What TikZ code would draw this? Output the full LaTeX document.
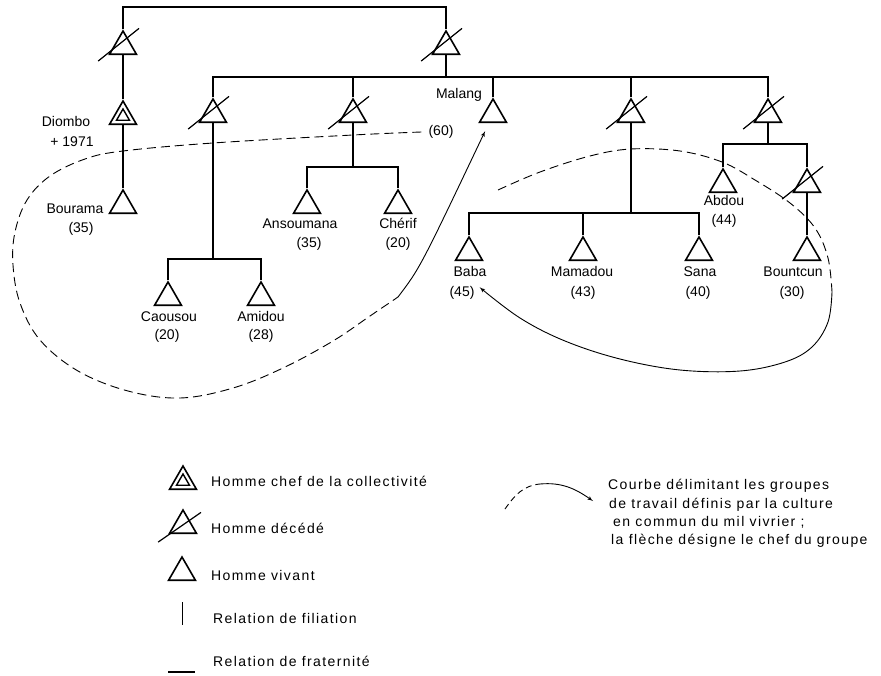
\documentclass[tikz,border=0pt]{standalone}
\usepackage{fontspec}
\setmainfont{Liberation Sans}
\usetikzlibrary{shapes,arrows,positioning,calc}
\tikzset{
vivant/.style = {draw, regular polygon, regular polygon sides=3, minimum size=31pt, inner sep=0pt, line width=1.6pt},
decede/.style = {vivant},
chef/.style = {vivant},
chefint/.style = {draw, regular polygon, regular polygon sides=3, minimum size=15pt, inner sep=0pt, line width=1.4pt},
barre/.style = {line width=1.2pt},
lien/.style = {line width=1.6pt},
tmp/.style = {coordinate},
nom/.style = {inner sep=1pt, text height=10pt, text depth=3pt},
legende/.style = {nom, anchor=west, font=\fontsize{14}{18}\selectfont\addfontfeature{LetterSpace=10}},
courbe/.style = {line width=0.9pt, dash pattern=on 9pt off 5pt},
fleche/.style = {->, line width=0.9pt}
}
\begin{document}
\begin{tikzpicture}[x=1pt, y=-1pt, >=latex', font=\fontsize{14}{17}\selectfont]
    \useasboundingbox (0,0) rectangle (881,675);
    \node [tmp] (b1) at (284,7) {};
    \node [decede] (t1) at (123,46.5) {};
    \node [decede] (t2) at (446,46.5) {};
    \node [chef] (diombo) at (123,116.5) {};
    \node [chefint] (diomboin) at (diombo.center) {};
    \node [vivant] (bourama) at (123,205.5) {};
    \node [tmp] (b2) at (446,77) {};
    \node [decede] (p1) at (213,114.5) {};
    \node [decede] (p2) at (353,114.5) {};
    \node [vivant] (malang) at (493,114.5) {};
    \node [decede] (p3) at (631,114.5) {};
    \node [decede] (p4) at (768,114.5) {};
    \node [tmp] (b3) at (213,259) {};
    \node [vivant] (caousou) at (168,297.5) {};
    \node [vivant] (amidou) at (261,297.5) {};
    \node [tmp] (b4) at (353,167) {};
    \node [vivant] (ansoumana) at (307,205.5) {};
    \node [vivant] (cherif) at (398,205.5) {};
    \node [tmp] (b5) at (631,213) {};
    \node [vivant] (baba) at (469,252.5) {};
    \node [vivant] (mamadou) at (583,252.5) {};
    \node [vivant] (sana) at (699,252.5) {};
    \node [tmp] (b6) at (768,144) {};
    \node [vivant] (abdou) at (723,184.5) {};
    \node [decede] (p5) at (807,184.5) {};
    \node [vivant] (bountoun) at (807,252.5) {};
    \node [nom] (ndiombo) at (66,123) {Diombo};
    \node [nom] (mdiombo) at (72,143) {+ 1971};
    \node [nom] (nbourama) at (75,210) {Bourama};
    \node [nom] (abourama) at (81,229) {(35)};
    \node [nom] (nmalang) at (459,95) {Malang};
    \node [nom] (amalang) at (441,132) {(60)};
    \node [nom] (nansoumana) at (300,225) {Ansoumana};
    \node [nom] (aansoumana) at (309,244) {(35)};
    \node [nom] (ncherif) at (398,225) {Chérif};
    \node [nom] (acherif) at (398,244) {(20)};
    \node [nom] (ncaousou) at (169,318) {Caousou};
    \node [nom] (acaousou) at (167,336) {(20)};
    \node [nom] (namidou) at (261,318) {Amidou};
    \node [nom] (aamidou) at (261,336) {(28)};
    \node [nom] (nbaba) at (470,273) {Baba};
    \node [nom] (ababa) at (462,293) {(45)};
    \node [nom] (nmamadou) at (582,273) {Mamadou};
    \node [nom] (amamadou) at (583,293) {(43)};
    \node [nom] (nsana) at (700,273) {Sana};
    \node [nom] (asana) at (698,293) {(40)};
    \node [nom] (nabdou) at (724,202) {Abdou};
    \node [nom] (aabdou) at (724,221) {(44)};
    \node [nom] (nbountoun) at (793,273) {Bountcun};
    \node [nom] (abountoun) at (792,293) {(30)};
    \draw [lien] (t1) |- (b1) -| (t2);
    \draw [lien] (t1) -- (diombo);
    \draw [lien] (diombo) -- (bourama);
    \draw [lien] (t2) -- (b2);
    \draw [lien] (p1) |- (b2) -| (p4);
    \draw [lien] (p2) -- (p2 |- b2);
    \draw [lien] (malang) -- (malang |- b2);
    \draw [lien] (p3) -- (p3 |- b2);
    \draw [lien] (p1) -- (b3);
    \draw [lien] (caousou) |- (b3) -| (amidou);
    \draw [lien] (p2) -- (b4);
    \draw [lien] (ansoumana) |- (b4) -| (cherif);
    \draw [lien] (p3) -- (b5);
    \draw [lien] (baba) |- (b5) -| (sana);
    \draw [lien] (mamadou) -- (mamadou |- b5);
    \draw [lien] (p4) -- (b6);
    \draw [lien] (abdou) |- (b6) -| (p5);
    \draw [lien] (p5) -- (bountoun);
    \coordinate (g0) at ([xshift=-6pt]amalang.west);
    \coordinate (g1) at (398,297);
    \draw [courbe] plot [smooth, tension=0.6] coordinates {(g0) (353,135) (213,143) (123,151) (85,159) (50,176) (27,200) (15,232) (13,265) (20,303) (40,340) (78,371) (128,391) (180,398) (233,388) (283,368) (333,341) (370,316) (g1)};
    \draw [fleche, shorten >=9pt] (g1) .. controls (420,268) .. (malang);
    \coordinate (d0) at (498,190);
    \coordinate (d1) at (832,292);
    \draw [courbe] plot [smooth, tension=0.6] coordinates {(d0) (540,172) (590,156) (631,149) (680,151) (722,162) (755,180) (790,203) (815,228) (828,258) (d1)};
    \draw [fleche] plot [smooth, tension=0.6] coordinates {(d1) (828,322) (812,347) (785,362) (740,371) (680,370) (620,359) (565,341) (520,318) ([shift={(4pt,-2pt)}]ababa.north east)};
    \foreach \n in {t1,t2,p1,p2,p3,p4,p5}
        \draw [barre] ([shift={(-10pt,-6pt)}]\n.corner 2) -- ([shift={(16pt,1pt)}]\n.corner 1);
    \node [chef] (lchef) at (183,481.5) {};
    \node [chefint] (lchefin) at (lchef.center) {};
    \node [decede] (ldecede) at (183,525.5) {};
    \draw [barre] ([shift={(-10pt,-8pt)}]ldecede.corner 2) -- ([shift={(18pt,-4pt)}]ldecede.corner 1);
    \node [vivant] (lvivant) at (182,572.5) {};
    \node [tmp] (lf1) at (182,602) {};
    \node [tmp] (lf2) at (182,625) {};
    \draw [lien, line width=1pt] (lf1) -- (lf2);
    \node [tmp] (lr1) at (168,672) {};
    \node [tmp] (lr2) at (195,672) {};
    \draw [lien] (lr1) -- (lr2);
    \node [legende] (tchef) at (210,483) {Homme chef de la collectivité};
    \node [legende] (tdecede) at (210,530) {Homme décédé};
    \node [legende] (tvivant) at (210,577) {Homme vivant};
    \node [legende] (tfil) at (212,620) {Relation de filiation};
    \node [legende] (tfrat) at (212,663) {Relation de fraternité};
    \coordinate (c0) at (505,509);
    \coordinate (c1) at (540,484);
    \coordinate (c2) at (593,501);
    \draw [courbe, dash pattern=on 6pt off 4pt] (c0) to [out=55, in=185] (c1);
    \draw [fleche] (c1) to [out=5, in=145] (c2);
    \node [legende] (tcourbe1) at (607,486) {Courbe délimitant les groupes};
    \node [legende] (tcourbe2) at (608,505) {de travail définis par la culture};
    \node [legende] (tcourbe3) at (612,523) {en commun du mil vivrier ;};
    \node [legende] (tcourbe4) at (610,541) {la flèche désigne le chef du groupe};
\end{tikzpicture}
\end{document}
